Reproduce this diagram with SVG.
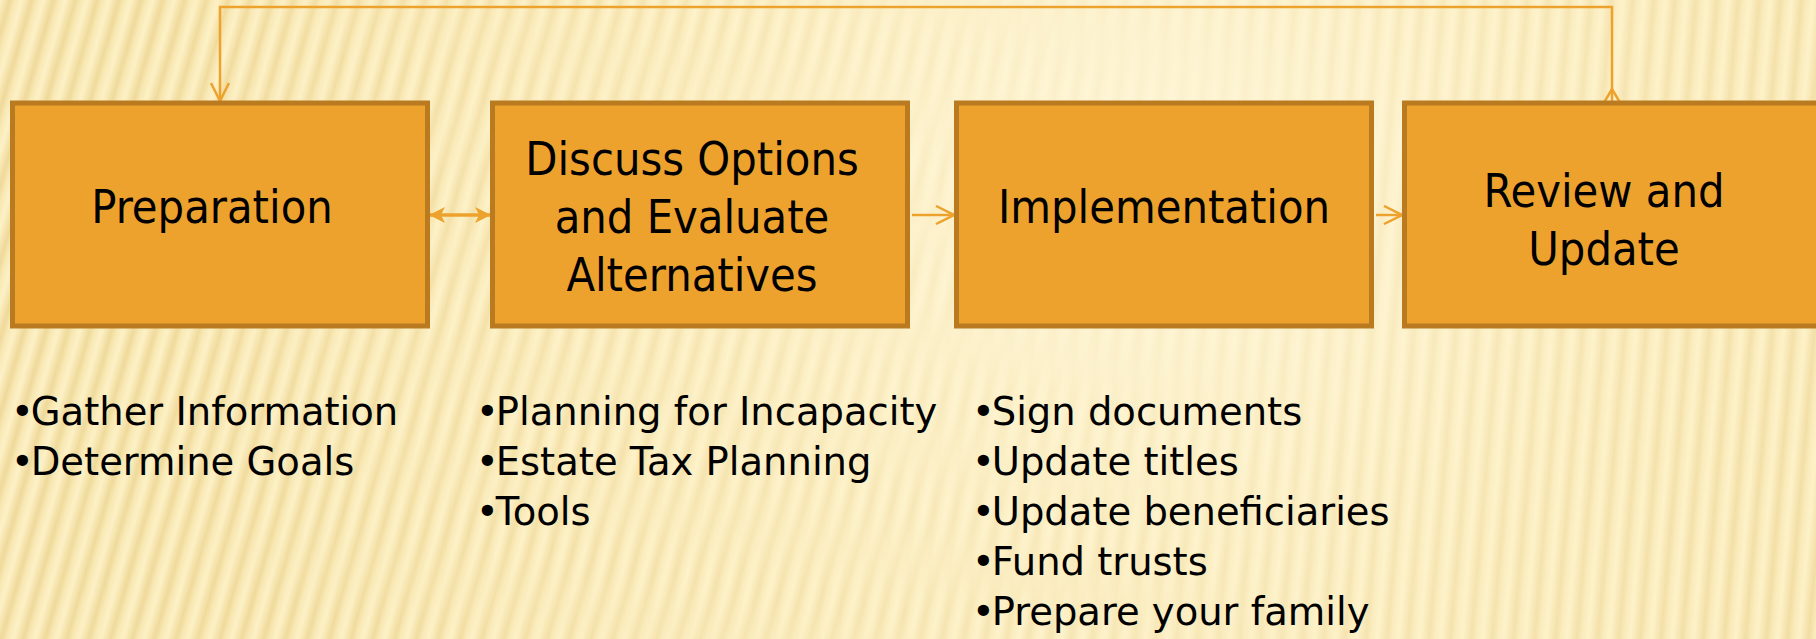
<svg xmlns="http://www.w3.org/2000/svg" width="1816" height="639" viewBox="0 0 1816 639">
<defs>
<style>
.box{fill:#EEA22E;stroke:#B97A20;stroke-width:5}
.lbl{font-family:'DejaVu Sans Condensed','DejaVu Sans',sans-serif;font-stretch:condensed;font-size:46.5px;fill:#000;text-anchor:middle}
.bul{font-family:'DejaVu Sans',sans-serif;font-size:38.5px;fill:#000}
.con{fill:none;stroke:#EEA22E;stroke-width:2.5}
.con2{fill:none;stroke:#EEA22E;stroke-width:3.5}
</style>
<linearGradient id="stripeGrad" x1="0" y1="0" x2="1" y2="0">
<stop offset="0" stop-color="#FDF1C6"/>
<stop offset="0.45" stop-color="#EFD99A"/>
<stop offset="0.7" stop-color="#F8E8B4"/>
<stop offset="1" stop-color="#FDF1C6"/>
</linearGradient>
<pattern id="stripesA" width="21" height="21" patternUnits="userSpaceOnUse" patternTransform="rotate(5)">
<rect width="21" height="21" fill="url(#stripeGrad)"/>
</pattern>
<pattern id="stripesB" width="21" height="21" patternUnits="userSpaceOnUse" patternTransform="rotate(16)">
<rect width="21" height="21" fill="url(#stripeGrad)"/>
</pattern>
<linearGradient id="fadeL" x1="0" y1="0" x2="1" y2="0">
<stop offset="0" stop-color="#fff" stop-opacity="1"/>
<stop offset="0.45" stop-color="#fff" stop-opacity="0.8"/>
<stop offset="0.75" stop-color="#fff" stop-opacity="0"/>
</linearGradient>
<mask id="leftMask" maskUnits="userSpaceOnUse" x="0" y="0" width="1816" height="639">
<rect width="1816" height="639" fill="url(#fadeL)"/>
</mask>
<radialGradient id="glow" cx="1150" cy="180" r="1000" gradientUnits="userSpaceOnUse">
<stop offset="0" stop-color="#FFF8DE" stop-opacity="0.85"/>
<stop offset="0.55" stop-color="#FFF4D0" stop-opacity="0.35"/>
<stop offset="1" stop-color="#FFF4D0" stop-opacity="0"/>
</radialGradient>
<marker id="open" viewBox="0 0 20 20" refX="19" refY="10" markerWidth="20" markerHeight="20" markerUnits="userSpaceOnUse" orient="auto">
<path d="M1,1 L19,10 L1,19" fill="none" stroke="#EEA22E" stroke-width="2.5"/>
</marker>
<marker id="stealth" viewBox="0 0 16 16" refX="15" refY="8" markerWidth="16" markerHeight="16" markerUnits="userSpaceOnUse" orient="auto-start-reverse">
<path d="M0,0 L16,8 L0,16 L4,8 z" fill="#EEA22E"/>
</marker>
</defs>
<rect width="1816" height="639" fill="url(#stripesA)"/>
<rect width="1816" height="639" fill="url(#stripesB)" mask="url(#leftMask)"/>
<rect width="1816" height="639" fill="url(#glow)"/>

<g id="connectors">
<path class="con" d="M1612 104 V7 H220 V101" marker-end="url(#open)"/>
<path class="con" d="M1602 106 L1612 89 L1622 106"/>
<path class="con2" d="M430 215 H490" marker-start="url(#stealth)" marker-end="url(#stealth)"/>
<path class="con" d="M912 215 H954" marker-end="url(#open)"/>
<path class="con" d="M1376 215 H1402" marker-end="url(#open)"/>
</g>

<g id="preparation">
<rect class="box" x="12.5" y="103" width="415" height="223"/>
<text class="lbl" x="212" y="223">Preparation</text>
</g>
<g id="discuss">
<rect class="box" x="492.5" y="103" width="415" height="223"/>
<text class="lbl" x="692" y="175">Discuss Options</text>
<text class="lbl" x="692" y="233">and Evaluate</text>
<text class="lbl" x="692" y="291">Alternatives</text>
</g>
<g id="implementation">
<rect class="box" x="956.5" y="103" width="415" height="223"/>
<text class="lbl" x="1164" y="223">Implementation</text>
</g>
<g id="review">
<rect class="box" x="1404.5" y="103" width="420" height="223"/>
<text class="lbl" x="1604" y="207">Review and</text>
<text class="lbl" x="1604" y="265">Update</text>
</g>

<g id="list-preparation">
<text class="bul" x="11" y="425">•<tspan dx="-3">Gather Information</tspan></text>
<text class="bul" x="11" y="475">•<tspan dx="-3">Determine Goals</tspan></text>
</g>
<g id="list-discuss">
<text class="bul" x="476" y="425">•<tspan dx="-3">Planning for Incapacity</tspan></text>
<text class="bul" x="476" y="475">•<tspan dx="-3">Estate Tax Planning</tspan></text>
<text class="bul" x="476" y="525">•<tspan dx="-3">Tools</tspan></text>
</g>
<g id="list-implementation">
<text class="bul" x="972" y="425">•<tspan dx="-3">Sign documents</tspan></text>
<text class="bul" x="972" y="475">•<tspan dx="-3">Update titles</tspan></text>
<text class="bul" x="972" y="525">•<tspan dx="-3">Update beneficiaries</tspan></text>
<text class="bul" x="972" y="575">•<tspan dx="-3">Fund trusts</tspan></text>
<text class="bul" x="972" y="625">•<tspan dx="-3">Prepare your family</tspan></text>
</g>
</svg>
